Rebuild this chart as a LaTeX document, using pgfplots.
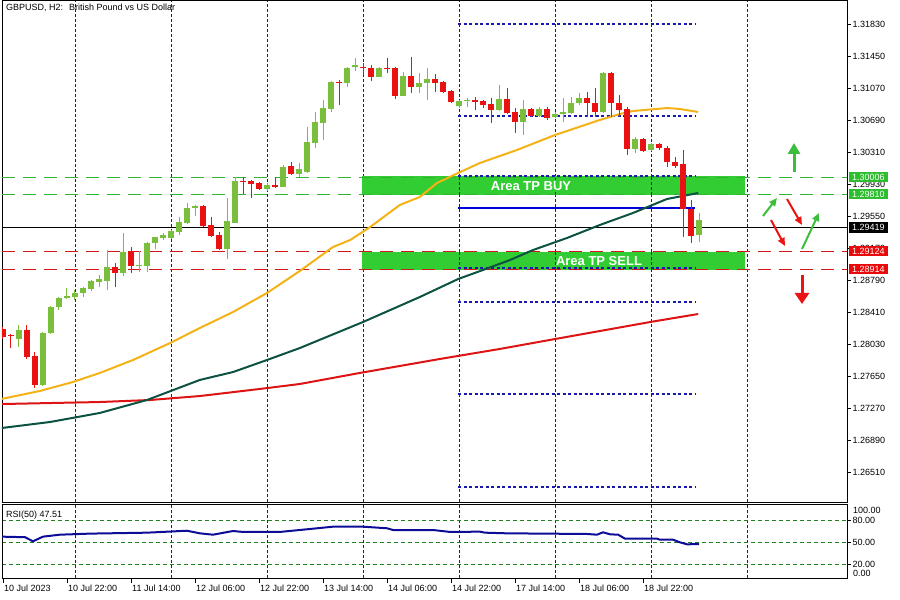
\documentclass[border=0pt]{standalone}
\usepackage{fontspec}
\setmainfont{Liberation Sans}
\usepackage{pgfplots}
\pgfplotsset{compat=1.18}
\usepackage{pgfplotstable}
\usetikzlibrary{arrows.meta,calc}
\definecolor{cgreen}{RGB}{122,190,62}
\definecolor{cred}{RGB}{232,18,18}
\definecolor{boxgreen}{RGB}{50,205,50}
\definecolor{lvgreen}{RGB}{50,180,50}
\definecolor{lvred}{RGB}{210,25,25}
\definecolor{maorange}{RGB}{245,178,22}
\definecolor{mateal}{RGB}{12,82,66}
\definecolor{mared}{RGB}{222,20,20}
\definecolor{fibblue}{RGB}{25,25,175}
\definecolor{rsiblue}{RGB}{12,12,150}
\definecolor{rsilvl}{RGB}{30,130,30}
\definecolor{labgreen}{RGB}{45,190,45}
\definecolor{labred}{RGB}{232,10,10}
\definecolor{arrgreen}{RGB}{60,190,60}
\definecolor{arrred}{RGB}{235,20,20}

\pgfplotstableread{
x o h l c
2 1.28089 1.28256 1.27994 1.28196
5 1.27543 1.28172 1.27531 1.28161
6 1.28161 1.28481 1.28149 1.28469
7 1.28469 1.28588 1.28434 1.28576
8 1.28576 1.28695 1.28564 1.28600
9 1.28588 1.28671 1.28553 1.28636
10 1.28636 1.28707 1.28588 1.28695
11 1.28683 1.28790 1.28659 1.28778
12 1.28766 1.28849 1.28707 1.28802
13 1.28778 1.29146 1.28671 1.28944
15 1.28873 1.29348 1.28837 1.29122
17 1.28956 1.29134 1.28885 1.28968
18 1.28956 1.29241 1.28885 1.29229
19 1.29229 1.29301 1.29158 1.29301
20 1.29289 1.29348 1.29265 1.29324
21 1.29289 1.29384 1.29277 1.29372
22 1.29360 1.29538 1.29324 1.29479
23 1.29467 1.29704 1.29455 1.29645
24 1.29645 1.29681 1.29550 1.29669
28 1.29158 1.29764 1.29039 1.29491
29 1.29467 1.30013 1.29467 1.29966
33 1.29871 1.29942 1.29847 1.29918
35 1.29894 1.30156 1.29894 1.30132
37 1.30049 1.30179 1.30013 1.30108
38 1.30072 1.30607 1.30061 1.30429
39 1.30417 1.30785 1.30357 1.30666
40 1.30654 1.30928 1.30452 1.30832
41 1.30821 1.31153 1.30785 1.31141
43 1.31129 1.31319 1.31082 1.31307
44 1.31319 1.31426 1.31272 1.31343
47 1.31201 1.31319 1.31201 1.31307
50 1.30975 1.31260 1.30975 1.31212
52 1.31082 1.31248 1.31011 1.31129
53 1.31129 1.31307 1.30928 1.31177
57 1.30856 1.30928 1.30832 1.30916
58 1.30916 1.30951 1.30844 1.30928
62 1.30809 1.31106 1.30797 1.30939
65 1.30666 1.30928 1.30512 1.30821
67 1.30737 1.30844 1.30726 1.30821
69 1.30726 1.30785 1.30714 1.30761
70 1.30761 1.30951 1.30666 1.30785
71 1.30773 1.30963 1.30761 1.30892
72 1.30892 1.31011 1.30868 1.30951
75 1.30785 1.31260 1.30773 1.31248
79 1.30346 1.30488 1.30298 1.30464
81 1.30334 1.30417 1.30322 1.30405
87 1.29324 1.29586 1.29241 1.29502
}\greentab

\pgfplotstableread{
x o h l c
0 1.28208 1.28232 1.28089 1.28113
1 1.28137 1.28149 1.27982 1.28125
3 1.28196 1.28256 1.27852 1.27876
4 1.27887 1.27935 1.27507 1.27543
14 1.28944 1.28992 1.28707 1.28873
16 1.29134 1.29182 1.28873 1.28956
25 1.29669 1.29681 1.29420 1.29431
26 1.29443 1.29538 1.29301 1.29312
27 1.29324 1.29360 1.29146 1.29158
30 1.29966 1.30013 1.29811 1.29954
31 1.29966 1.29978 1.29764 1.29930
32 1.29942 1.29954 1.29860 1.29871
34 1.29918 1.30013 1.29882 1.29894
36 1.30144 1.30191 1.30037 1.30049
42 1.31141 1.31165 1.30868 1.31129
45 1.31319 1.31367 1.31224 1.31307
46 1.31307 1.31343 1.31153 1.31201
48 1.31307 1.31426 1.31248 1.31296
49 1.31307 1.31319 1.30939 1.30975
51 1.31212 1.31438 1.31011 1.31082
54 1.31177 1.31236 1.31022 1.31129
55 1.31141 1.31153 1.31011 1.31022
56 1.31034 1.31046 1.30892 1.30904
59 1.30928 1.30963 1.30809 1.30904
60 1.30916 1.30928 1.30832 1.30868
61 1.30880 1.30951 1.30654 1.30809
63 1.30939 1.31070 1.30761 1.30773
64 1.30785 1.30832 1.30536 1.30666
66 1.30821 1.30832 1.30726 1.30737
68 1.30821 1.30844 1.30690 1.30714
73 1.30951 1.31022 1.30726 1.30892
74 1.30892 1.31070 1.30726 1.30785
76 1.31248 1.31260 1.30726 1.30892
77 1.30892 1.30987 1.30726 1.30809
78 1.30821 1.30844 1.30274 1.30346
80 1.30464 1.30476 1.30310 1.30322
82 1.30405 1.30417 1.30334 1.30357
83 1.30357 1.30381 1.30132 1.30191
84 1.30191 1.30251 1.30120 1.30144
85 1.30167 1.30334 1.29301 1.29633
86 1.29633 1.29740 1.29229 1.29312
}\redtab

\begin{document}
\begin{tikzpicture}[x=1pt,y=1pt,font=\fontsize{9}{10}\selectfont]
% ---------------- main price panel ----------------
\begin{axis}[
  name=main,
  scale only axis,
  width=845pt, height=502pt,
  xmin=-0.125, xmax=105.5, ymin=1.2615375, ymax=1.32115,
  axis line style={black, line width=0.8pt},
  xtick={9,21,33,45,57,69,81,93}, xticklabels={}, xtick style={draw=none},
  xmajorgrids,
  major x grid style={black!85, line width=0.7pt, dash pattern=on 3pt off 2pt},
  ytick={1.26510,1.26890,1.27270,1.27650,1.28030,1.28410,1.28790,1.29170,1.29550,1.29930,1.30310,1.30690,1.31070,1.31450,1.31830},
  yticklabels={1.26510,1.26890,1.27270,1.27650,1.28030,1.28410,1.28790,1.29170,1.29550,1.29930,1.30310,1.30690,1.31070,1.31450,1.31830},
  ytick pos=right, yticklabel pos=right,
  tick align=outside, major tick length=4pt,
  ytick style={black, line width=0.7pt},
  yticklabel style={font=\fontsize{9}{10}\selectfont, anchor=west, inner sep=0pt, xshift=1.5pt},
  /pgf/number format/assume math mode=true,
  no markers,
]
\fill[boxgreen] (axis cs:44.875,1.29798) rectangle (axis cs:92.75,1.30030);
\fill[boxgreen] (axis cs:44.875,1.28914) rectangle (axis cs:92.75,1.29124);
\draw[black!85, line width=0.7pt, dash pattern=on 3pt off 2pt] (axis cs:57,1.29798) -- (axis cs:57,1.30030);
\draw[black!85, line width=0.7pt, dash pattern=on 3pt off 2pt] (axis cs:57,1.28914) -- (axis cs:57,1.29124);
\draw[black!85, line width=0.7pt, dash pattern=on 3pt off 2pt] (axis cs:69,1.29798) -- (axis cs:69,1.30030);
\draw[black!85, line width=0.7pt, dash pattern=on 3pt off 2pt] (axis cs:69,1.28914) -- (axis cs:69,1.29124);
\draw[black!85, line width=0.7pt, dash pattern=on 3pt off 2pt] (axis cs:81,1.29798) -- (axis cs:81,1.30030);
\draw[black!85, line width=0.7pt, dash pattern=on 3pt off 2pt] (axis cs:81,1.28914) -- (axis cs:81,1.29124);
% horizontal levels
\addplot[lvgreen, line width=1.2pt, dash pattern=on 13pt off 8pt] coordinates {(-0.125,1.30006) (105.5,1.30006)};
\addplot[lvgreen, line width=1.2pt, dash pattern=on 13pt off 8pt] coordinates {(-0.125,1.29810) (105.5,1.29810)};
\addplot[lvred, line width=1.2pt, dash pattern=on 13pt off 8pt] coordinates {(-0.125,1.29124) (105.5,1.29124)};
\addplot[lvred, line width=1.2pt, dash pattern=on 13pt off 8pt] coordinates {(-0.125,1.28914) (105.5,1.28914)};
\addplot[black, line width=1pt] coordinates {(-0.125,1.29419) (105.5,1.29419)};
% blue levels
\addplot[fibblue, line width=1.1pt, dash pattern=on 3pt off 2.5pt] coordinates {(56.875,1.31830) (86.5,1.31830)};
\addplot[fibblue, line width=1.1pt, dash pattern=on 3pt off 2.5pt] coordinates {(56.875,1.30737) (86.5,1.30737)};
\addplot[fibblue, line width=1.1pt, dash pattern=on 3pt off 2.5pt] coordinates {(56.875,1.30025) (86.5,1.30025)};
\addplot[blue!85!black, line width=2pt] coordinates {(56.875,1.29645) (86.5,1.29645)};
\addplot[fibblue, line width=1.1pt, dash pattern=on 3pt off 2.5pt] coordinates {(56.875,1.28933) (86.5,1.28933)};
\addplot[fibblue, line width=1.1pt, dash pattern=on 3pt off 2.5pt] coordinates {(56.875,1.28529) (86.5,1.28529)};
\addplot[fibblue, line width=1.1pt, dash pattern=on 3pt off 2.5pt] coordinates {(56.875,1.27436) (86.5,1.27436)};
\addplot[fibblue, line width=1.1pt, dash pattern=on 3pt off 2.5pt] coordinates {(56.875,1.26332) (86.5,1.26332)};
% moving averages
\addplot[mared, line width=2pt] coordinates {(-0.2,1.27317) (12.1,1.27341) (18.4,1.27365) (24.6,1.27412) (32.1,1.27496) (37.1,1.27555) (44.6,1.27686) (54.6,1.27852) (62.1,1.27971) (69,1.28089) (74.6,1.28184) (80.9,1.28291) (86.9,1.28386)};
\addplot[mateal, line width=2pt] coordinates {(-0.2,1.27032) (5.9,1.27104) (12.1,1.27211) (18,1.27365) (24.6,1.27603) (28.75,1.27697) (33,1.27840) (37.1,1.27982) (45,1.28291) (52.1,1.28588) (56.9,1.28802) (60,1.28909) (63.4,1.29028) (66.25,1.29146) (70.5,1.29289) (74.6,1.29443) (78.75,1.29586) (83,1.29752) (86.9,1.29823)};
\addplot[maorange, line width=2pt] coordinates {(-0.2,1.27377) (4.6,1.27472) (8.75,1.27579) (12.1,1.27686) (16.25,1.27840) (20.9,1.28042) (24.6,1.28220) (28.75,1.28410) (33,1.28636) (37.1,1.28897) (41.25,1.29182) (43.4,1.29265) (45.9,1.29420) (49.6,1.29681) (52.1,1.29776) (54.25,1.29942) (56.9,1.30061) (59.6,1.30179) (64.25,1.30334) (69,1.30512) (74.6,1.30690) (77.1,1.30761) (78.75,1.30797) (83,1.30832) (84.6,1.30821) (86.9,1.30785)};
% candles: wicks
\addplot[draw=none, forget plot, error bars/.cd, y dir=plus, y explicit, error mark=none,
  error bar style={draw=cgreen, line width=1pt}]
  table[x=x, y=l, y error plus expr=\thisrow{h}-\thisrow{l}] {\greentab};
\addplot[draw=none, forget plot, error bars/.cd, y dir=plus, y explicit, error mark=none,
  error bar style={draw=cred, line width=1pt}]
  table[x=x, y=l, y error plus expr=\thisrow{h}-\thisrow{l}] {\redtab};
% candles: bodies
\addplot[draw=none, forget plot, error bars/.cd, y dir=plus, y explicit, error mark=none,
  error bar style={draw=cgreen, line width=6pt}]
  table[x=x, y=o, y error plus expr=\thisrow{c}-\thisrow{o}] {\greentab};
\addplot[draw=none, forget plot, error bars/.cd, y dir=plus, y explicit, error mark=none,
  error bar style={draw=cred, line width=6pt}]
  table[x=x, y=c, y error plus expr=\thisrow{o}-\thisrow{c}] {\redtab};
% box texts
\node[text=white, font=\bfseries\fontsize{13}{14}\selectfont] at (axis cs:66,1.29908) {Area TP BUY};
\node[text=white, font=\bfseries\fontsize{13}{14}\selectfont] at (axis cs:74.5,1.29019) {Area TP SELL};
\end{axis}
% ---------------- RSI panel ----------------
\begin{axis}[
  at={($(main.south west)+(0,-2)$)}, anchor=north west,
  scale only axis,
  width=845pt, height=74.4pt,
  xmin=-0.125, xmax=105.5, ymin=0, ymax=103,
  axis line style={black, line width=0.8pt},
  xtick={9,21,33,45,57,69,81,93}, xticklabels={}, xtick style={draw=none},
  xmajorgrids,
  major x grid style={black!85, line width=0.7pt, dash pattern=on 3pt off 2pt},
  ytick={20,50,80}, yticklabels={20.00,50.00,80.00},
  ymajorgrids,
  major y grid style={rsilvl, line width=0.9pt, dash pattern=on 4pt off 3pt},
  ytick pos=right, yticklabel pos=right,
  tick align=outside, major tick length=4pt,
  ytick style={black, line width=0.7pt},
  yticklabel style={font=\fontsize{9}{10}\selectfont, anchor=west, inner sep=0pt, xshift=1.5pt},
  /pgf/number format/assume math mode=true,
  no markers,
]
\addplot[rsiblue, line width=2pt] coordinates {(-0.2,57.8) (2.75,57.0) (3.75,51.4) (5,57.8) (7.1,60.5) (10.9,62) (18,63.3) (23,66) (24.6,62.4) (26.25,60.5) (28.75,65.6) (30,64.3) (34.6,64.3) (38,68) (41.25,71.6) (45,71.6) (48,69.4) (48.75,67) (53.75,67) (55.9,64.3) (59.6,64.7) (60.25,63.3) (63,62.4) (73,61.5) (74.25,60.5) (75,63.8) (75.9,61) (76.9,60.5) (77.75,55) (81.75,55) (82.1,53.6) (83.75,53.6) (84.6,50) (85.5,47.2) (87,47.5)};
\end{axis}
% ---------------- texts and annotations (pixel frame: origin at image top-left) ----------------
\begin{scope}[shift={($(main.north west)+(-2,0)$)}]
\node[anchor=west, inner sep=0pt] at (6,-8) {GBPUSD, H2:\hspace{6pt}British Pound vs US Dollar};
\node[anchor=west, inner sep=0pt] at (6,-515) {RSI(50) 47.51};
\node[anchor=west, inner sep=0pt] at (853,-510) {100.00};
\node[anchor=west, inner sep=0pt] at (853,-573.3) {0.00};
\foreach \i/\lab in {0/10 Jul 2023, 8/10 Jul 22:00, 16/11 Jul 14:00, 24/12 Jul 06:00, 32/12 Jul 22:00, 40/13 Jul 14:00, 48/14 Jul 06:00, 56/14 Jul 22:00, 64/17 Jul 14:00, 72/18 Jul 06:00, 80/18 Jul 22:00}{
  \draw[black, line width=0.7pt] ({3+8*\i},-578.4) -- ({3+8*\i},-583);
  \node[anchor=base west, inner sep=0pt] at ({4+8*\i},-591) {\lab};
}
\node[anchor=west, fill=labgreen, text=white, inner xsep=3pt, inner ysep=2pt] at (849,-177) {1.30006};
\node[anchor=west, fill=labgreen, text=white, inner xsep=3pt, inner ysep=2pt] at (849,-194) {1.29810};
\node[anchor=west, fill=black, text=white, inner xsep=3pt, inner ysep=2pt] at (849,-227.5) {1.29419};
\node[anchor=west, fill=labred, text=white, inner xsep=3pt, inner ysep=2pt] at (849,-251) {1.29124};
\node[anchor=west, fill=labred, text=white, inner xsep=3pt, inner ysep=2pt] at (849,-269) {1.28914};
\draw[arrgreen, line width=3pt, -{Triangle[width=12pt,length=11pt]}] (794,-172) -- (794,-143);
\draw[arrgreen, line width=2pt, -{Triangle[width=7pt,length=8pt]}] (763,-216) -- (777,-198);
\draw[arrred, line width=2pt, -{Triangle[width=7pt,length=8pt]}] (787,-199) -- (802,-225);
\draw[arrred, line width=2pt, -{Triangle[width=7pt,length=8pt]}] (771,-220) -- (785,-246);
\draw[arrgreen, line width=2pt, -{Triangle[width=7pt,length=8pt]}] (802,-249) -- (819,-213);
\draw[arrred, line width=3pt, -{Triangle[width=14pt,length=11pt]}] (802,-275) -- (802,-304);
\pgfresetboundingbox
\useasboundingbox (0,0) rectangle (900,-600);
\end{scope}
\end{tikzpicture}
\end{document}
